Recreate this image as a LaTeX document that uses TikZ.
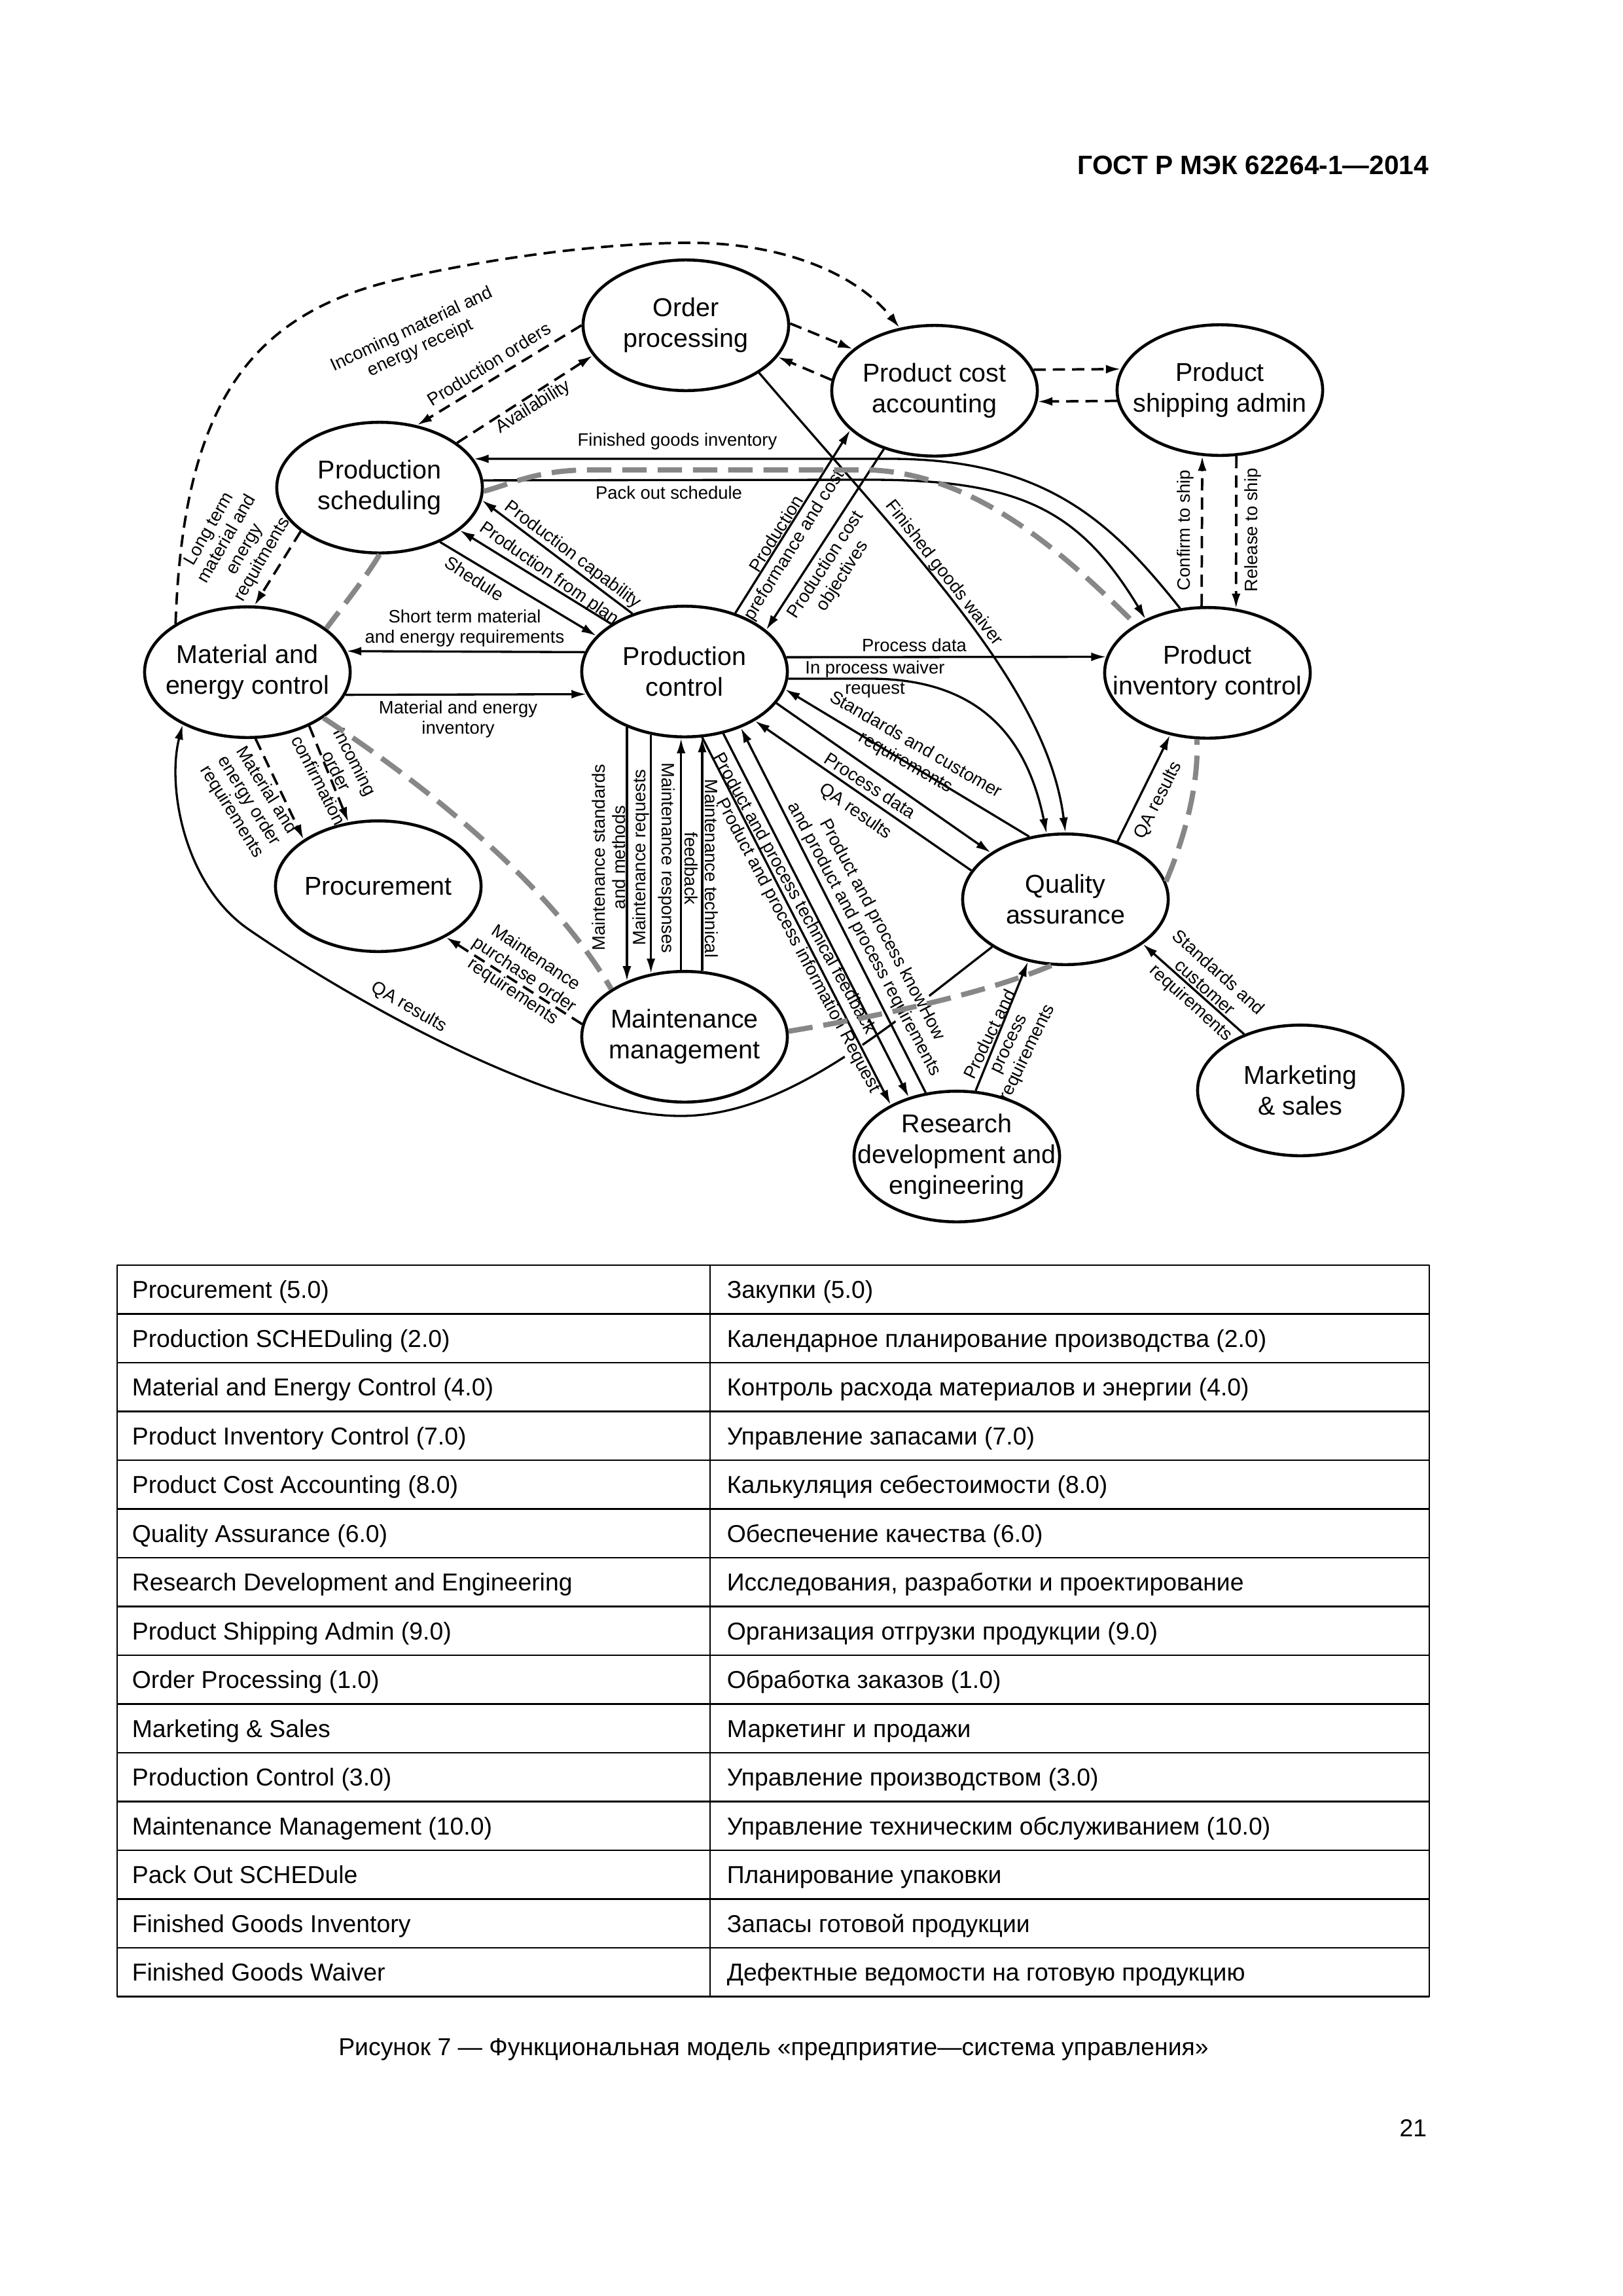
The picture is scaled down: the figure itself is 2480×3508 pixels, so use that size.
\documentclass[tikz,border=0pt]{standalone}
\usepackage{fontspec}
\setmainfont{Liberation Sans}
\usetikzlibrary{arrows.meta,shapes.geometric}
\definecolor{bnd}{gray}{0.53}

\begin{document}
\begin{tikzpicture}[x=0.0846774mm,y=-0.0846774mm,line join=round,
  unit/.style={ellipse,draw,line width=1.1pt,minimum width=26.6mm,minimum height=16.9mm,inner sep=0pt},
  utext/.style={align=center,inner sep=0pt,font=\fontsize{9.5}{11.3}\selectfont},
  lbl/.style={align=center,inner sep=0pt,font=\fontsize{6.6}{7.5}\selectfont},
  lblw/.style={lbl,fill=white,inner sep=0.8pt},
  flow/.style={line width=0.8pt,-{Latex[length=5.5pt,width=3.2pt]}},
  dflow/.style={flow,line width=0.9pt,dash pattern=on 4.5pt off 2.6pt},
  bound/.style={line width=1.9pt,bnd,dash pattern=on 9pt off 4pt},
  cell/.style={anchor=base west,inner sep=0pt,font=\fontsize{9}{11}\selectfont}]
\fill[white] (0,0) rectangle (2480,3508);

% page head
\node[anchor=base east,inner sep=0pt,font=\bfseries\fontsize{9.8}{12}\selectfont] (hdr) at (2184,266) {ГОСТ Р МЭК 62264-1—2014};

% functions
\foreach \nm/\pos/\txt in {
    op/{1048,497}/{Order\\processing},
    pca/{1428,597}/{Product cost\\accounting},
    psa/{1864,596}/{Product\\shipping admin},
    ps/{580,745}/{Production\\scheduling},
    mec/{378,1027}/{Material and\\energy control},
    pc/{1046,1026}/{Production\\control},
    pic/{1845,1028}/{Product\\inventory control},
    proc/{578,1354}/{Procurement},
    qa/{1628,1374}/{Quality\\assurance},
    mm/{1046,1584}/{Maintenance\\management},
    rde/{1462,1767}/{Research\\development and\\engineering},
    ms/{1987,1666}/{Marketing\\\& sales}} {
  \node[unit] (\nm) at (\pos) {};
  \node[utext] (\nm-t) at (\nm) {\txt};
}

% QA results round the bottom (cut by the labels below)
\draw[flow] (qa.213) .. controls (1350,1575) and (1200,1705) .. (1040,1705)
  .. controls (850,1705) and (540,1530) .. (380,1420)
  .. controls (280,1351) and (255,1200) .. (mec.219);
\node[lbl,rotate=-30] (qa1) at (625,1539) {QA results};
\node[lblw,rotate=-61] (ptf) at (1213,1366) {Product and process technical feedback};
\node[lblw,rotate=-62] (pir) at (1219,1445) {Product and process information Request};
\node[lblw,rotate=-62] (pkh) at (1334,1428) {Product and process knowHow\\and product and process requirements};

% dashed flows
\draw[dflow] (mec.146) .. controls (280,620) and (380,480) .. (608,427)
  .. controls (745,395) and (920,371) .. (1054,371)
  .. controls (1200,371) and (1310,420) .. (pca.119);
\node[lbl,rotate=25] (incl) at (636,518) {Incoming material and\\energy receipt};
\draw[dflow] (op.180) -- (ps.59);
\node[lbl,rotate=32] (pol) at (747,556) {Production orders};
\draw[dflow] (ps.30) -- (op.198);
\node[lbl,rotate=32] (avl) at (815,622) {Availability};
\draw[dflow] (op.1) -- (pca.153);
\draw[dflow] (pca.174) -- (op.-19);
\draw[dflow] (pca.12) -- (psa.168);
\draw[dflow] (psa.186) -- (pca.-6);
\draw[dflow] (pic.95) -- (psa.-105);
\node[lbl,rotate=90] (ctsl) at (1811,810) {Confirm to ship};
\draw[dflow] (psa.-76) -- (pic.66);
\node[lbl,rotate=90] (rtsl) at (1914,810) {Release to ship};
\draw[dflow] (ps.209) -- (mec.84);
\node[lbl,rotate=60] (ltl) at (361,832) {Long term\\material and\\energy\\requitments};
\draw[dflow] (mec.-83) -- (proc.148);
\node[lbl,rotate=-58] (meol) at (380,1224) {Material and\\energy order\\requirements};
\draw[dflow] (mec.-41) -- (proc.115);
\node[lbl,rotate=-63] (iocl) at (515,1178) {Incoming\\order\\confirmation};
\draw[dflow] (mm.173) -- (proc.-37);
\node[lbl,rotate=-34] (mpol) at (801,1490) {Maintenance\\purchase order\\requirements};

% solid flows
\draw[flow] (pic.113) .. controls (1700,800) and (1600,701) .. (1360,701) -- (ps.17);
\node[lbl] (fgil) at (1035,674) {Finished goods inventory};
\draw[flow] (ps.4) -- (1330,733) .. controls (1560,733) and (1650,780) .. (pic.139);
\node[lbl] (posl) at (1022,753) {Pack out schedule};
\draw[flow] (pc.132) -- (ps.-7);
\node[lbl,rotate=-37] (capl) at (875,848) {Production capability};
\draw[flow] (pc.147) -- (ps.-28);
\node[lbl,rotate=-35] (plnl) at (839,877) {Production from plan};
\draw[flow] (ps.-42) -- (pc.158);
\node[lbl,rotate=-33] (shdl) at (725,884) {Shedule};
\draw[flow] (pc.169) -- (mec.12);
\node[lbl] (stl) at (710,960) {Short term material\\and energy requirements};
\draw[flow] (mec.-13) -- (pc.193);
\node[lbl] (meil) at (700,1099) {Material and energy\\inventory};
\draw[flow] (pc.8) -- (pic.171);
\node[lbl] (pd1) at (1397,986) {Process data};
\draw[flow] (pc.-4) -- (1330,1037) .. controls (1500,1037) and (1570,1130) .. (qa.106);
\node[lbl] (ipwl) at (1337,1038) {In process waiver\\request};
\draw[flow] (op.-33) .. controls (1400,850) and (1600,1050) .. (qa.90);
\node[lbl,rotate=-52] (fgwl) at (1442,876) {Finished goods waiver};
\draw[flow] (pc.49) -- (pca.205);
\node[lbl,rotate=58] (ppcl) at (1201,825) {Production\\preformance and cost};
\draw[flow] (pca.229) -- (pc.27);
\node[lbl,rotate=57] (pcol) at (1275,872) {Production cost\\objectives};
\draw[flow] (qa.120) -- (pc.-10);
\node[lbl,rotate=-30] (scl) at (1391,1152) {Standards and customer\\requirements};
\draw[flow] (pc.-19) -- (qa.148);
\node[lbl,rotate=-33] (pd2) at (1330,1200) {Process data};
\draw[flow] (qa.163) -- (pc.-35);
\node[lbl,rotate=-35] (qa2) at (1307,1240) {QA results};
\draw[flow] (qa.48) -- (pic.-121);
\node[lbl,rotate=63] (qa3) at (1770,1223) {QA results};

% production control - maintenance
\draw[flow] (pc.224) -- (mm.136);
\draw[flow] (pc.242) -- (mm.118);
\draw[flow] (mm.93) -- (pc.267);
\draw[flow] (mm.75) -- (pc.-75);
\node[lbl,rotate=90] (msml) at (930,1310) {Maintenance standards\\and methods};
\node[lbl,rotate=90] (mrql) at (979,1310) {Maintenance requests};
\node[lbl,rotate=-90] (mrsl) at (1019,1311) {Maintenance responses};
\node[lbl,rotate=-90] (mtfl) at (1072,1327) {Maintenance technical\\feedback};

% production control - research
\draw[flow] (pc.-75) -- (rde.142);
\draw[flow] (pc.-58) -- (rde.129);
\draw[flow] (rde.116) -- (pc.-45);
\draw[flow] (rde.74) -- (qa.-121);
\node[lbl,rotate=64] (pprl) at (1542,1595) {Product and\\process\\requirements};
\draw[flow] (ms.135) -- (qa.-30);
\node[lbl,rotate=-42] (scrl) at (1840,1510) {Standards and\\customer\\requirements};

% boundaries
\draw[bound] (ps.-90) .. controls (562,878) and (525,925) .. (mec.29);
\draw[bound] (ps.-2) .. controls (780,740) and (820,718) .. (900,718) -- (1330,718)
  .. controls (1500,725) and (1640,860) .. (pic.146);
\draw[bound] (mec.-31) .. controls (650,1200) and (840,1350) .. (mm.147);
\draw[bound] (mm.3) .. controls (1330,1555) and (1500,1520) .. (qa.-102);
\draw[bound] (qa.10) .. controls (1810,1280) and (1832,1200) .. (pic.-99);

% table
\draw[line width=0.6pt] (179,1933) rectangle (2184,3050.5);
\foreach \i in {1,...,14}
  \draw[line width=0.6pt] (179,{1933+74.5*\i}) -- (2184,{1933+74.5*\i});
\draw[line width=0.6pt] (1085,1933) -- (1085,3050.5);
\foreach \en/\ru [count=\i from 0] in {
    {Procurement (5.0)}/{Закупки (5.0)},
    {Production SCHEDuling (2.0)}/{Календарное планирование производства (2.0)},
    {Material and Energy Control (4.0)}/{Контроль расхода материалов и энергии (4.0)},
    {Product Inventory Control (7.0)}/{Управление запасами (7.0)},
    {Product Cost Accounting (8.0)}/{Калькуляция себестоимости (8.0)},
    {Quality Assurance (6.0)}/{Обеспечение качества (6.0)},
    {Research Development and Engineering}/{Исследования, разработки и проектирование},
    {Product Shipping Admin (9.0)}/{Организация отгрузки продукции (9.0)},
    {Order Processing (1.0)}/{Обработка заказов (1.0)},
    {Marketing \& Sales}/{Маркетинг и продажи},
    {Production Control (3.0)}/{Управление производством (3.0)},
    {Maintenance Management (10.0)}/{Управление техническим обслуживанием (10.0)},
    {Pack Out SCHEDule}/{Планирование упаковки},
    {Finished Goods Inventory}/{Запасы готовой продукции},
    {Finished Goods Waiver}/{Дефектные ведомости на готовую продукцию}} {
  \node[cell] (en\i) at (201,{1983.5+74.5*\i}) {\en};
  \node[cell] (ru\i) at (1110,{1983.5+74.5*\i}) {\ru};
}

% caption and page number
\node[anchor=base,inner sep=0pt,font=\fontsize{9}{11}\selectfont] (cap) at (1182,3140) {Рисунок 7 — Функциональная модель «предприятие—система управления»};
\node[anchor=base east,inner sep=0pt,font=\fontsize{9}{11}\selectfont] (pg) at (2181,3264) {21};
\end{tikzpicture}
\end{document}
